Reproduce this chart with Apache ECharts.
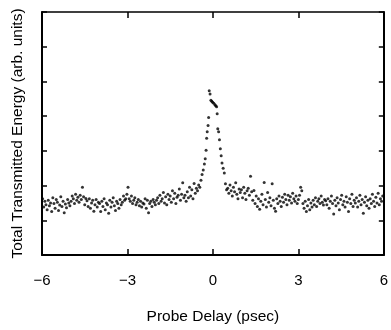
<!DOCTYPE html>
<html>
<head>
<meta charset="utf-8">
<script src="https://cdn.jsdelivr.net/npm/echarts@6/dist/echarts.min.js"></script>
<style>
html,body{margin:0;padding:0;background:#fff;}
#chart{width:391px;height:330px;}
</style>
</head>
<body>
<div id="chart"></div>
<script>
// Probe delay (psec) and total transmitted energy (arb. units)
const xTicks = [-6, -3, 0, 3, 6];

const delaysPre = [
-5.98,-5.94,-5.90,-5.86,-5.82,-5.78,-5.74,-5.70,-5.66,-5.62,-5.58,-5.54,-5.50,-5.46,-5.42,-5.38,-5.34,-5.30,-5.26,-5.22,-5.18,-5.14,-5.10,-5.06,-5.02,
-4.98,-4.94,-4.90,-4.86,-4.82,-4.78,-4.74,-4.70,-4.66,-4.62,-4.58,-4.54,-4.50,-4.46,-4.42,-4.38,-4.34,-4.30,-4.26,-4.22,-4.18,-4.14,-4.10,-4.06,-4.02,
-3.98,-3.94,-3.90,-3.86,-3.82,-3.78,-3.74,-3.70,-3.66,-3.62,-3.58,-3.54,-3.50,-3.46,-3.42,-3.38,-3.34,-3.30,-3.26,-3.22,-3.18,-3.14,-3.10,-3.06,-3.02,
-2.98,-2.94,-2.90,-2.86,-2.82,-2.78,-2.74,-2.70,-2.66,-2.62,-2.58,-2.54,-2.50,-2.46,-2.42,-2.38,-2.34,-2.30,-2.26,-2.22,-2.18,-2.14,-2.10,-2.06,-2.02,
-1.98,-1.94,-1.90,-1.86,-1.82,-1.78,-1.74,-1.70,-1.66,-1.62,-1.58,-1.54,-1.50,-1.46,-1.42,-1.38,-1.34,-1.30,-1.26,-1.22,-1.18,-1.14,-1.10,-1.06,-1.02,
-0.98,-0.94,-0.90,-0.86,-0.82,-0.78,-0.74,-0.70,-0.66,-0.62,-0.58,-0.54,-0.50,-0.46
];
const energyPre = [
1.62,1.38,1.55,1.45,1.30,1.58,1.42,1.50,1.25,1.65,1.48,1.35,1.60,1.52,1.28,1.44,1.68,1.40,1.55,1.22,1.47,1.36,1.60,1.50,1.42,
1.55,1.70,1.62,1.48,1.75,1.58,1.66,1.52,1.72,1.60,1.95,1.68,1.45,1.63,1.56,1.40,1.62,1.35,1.50,1.58,1.26,1.45,1.60,1.38,1.52,
1.48,1.25,1.55,1.40,1.62,1.30,1.50,1.45,1.20,1.58,1.38,1.52,1.65,1.42,1.28,1.55,1.48,1.35,1.60,1.45,1.52,1.70,1.58,1.62,1.75,
1.95,1.62,1.55,1.70,1.48,1.58,1.65,1.45,1.52,1.60,1.42,1.55,1.38,1.50,1.47,1.62,1.35,1.58,1.22,1.48,1.55,1.40,1.60,1.52,1.45,
1.58,1.65,1.48,1.72,1.55,1.62,1.80,1.50,1.68,1.45,1.75,1.60,1.70,1.52,1.85,1.62,1.78,1.48,1.66,1.72,1.90,1.58,1.75,2.08,1.65,
1.72,1.55,1.82,1.65,1.95,1.70,1.88,1.62,2.06,1.78,1.92,1.85,2.02,1.95
];

const delaysPeak = [
-0.42,-0.38,-0.34,-0.30,-0.27,-0.24,-0.22,-0.20,-0.17,-0.15,-0.13,-0.10,-0.07,-0.04,-0.01,
0.03,0.07,0.10,0.13,0.15,0.17,0.20,0.23,0.26,0.29,0.32,0.36,0.40,0.44,0.48
];
const energyPeak = [
2.15,2.32,2.45,2.62,2.77,3.02,3.36,3.55,3.73,3.96,4.73,4.64,4.46,4.43,4.40,
4.37,4.33,4.30,4.27,4.07,3.64,3.55,3.32,3.06,2.86,2.65,2.50,2.36,2.05,1.88
];

const delaysPost = [
0.52,0.56,0.60,0.64,0.68,0.72,0.76,0.80,0.84,0.88,0.92,0.96,
1.00,1.04,1.08,1.12,1.16,1.20,1.24,1.28,1.32,1.36,1.40,1.44,1.48,1.52,1.56,1.60,1.64,1.68,1.72,1.76,1.80,1.84,1.88,1.92,1.96,
2.00,2.04,2.08,2.12,2.16,2.20,2.24,2.28,2.32,2.36,2.40,2.44,2.48,2.52,2.56,2.60,2.64,2.68,2.72,2.76,2.80,2.84,2.88,2.92,2.96,
3.00,3.04,3.08,3.12,3.16,3.20,3.24,3.28,3.32,3.36,3.40,3.44,3.48,3.52,3.56,3.60,3.64,3.68,3.72,3.76,3.80,3.84,3.88,3.92,3.96,
4.00,4.04,4.08,4.12,4.16,4.20,4.24,4.28,4.32,4.36,4.40,4.44,4.48,4.52,4.56,4.60,4.64,4.68,4.72,4.76,4.80,4.84,4.88,4.92,4.96,
5.00,5.04,5.08,5.12,5.16,5.20,5.24,5.28,5.32,5.36,5.40,5.44,5.48,5.52,5.56,5.60,5.64,5.68,5.72,5.76,5.80,5.84,5.88,5.92,5.96
];
const energyPost = [
1.92,1.78,2.02,1.85,1.70,1.95,1.82,2.08,1.75,1.62,1.90,1.80,
1.88,1.65,1.95,1.78,1.60,1.85,1.92,1.72,2.27,1.82,1.58,1.86,1.48,1.70,1.40,1.62,1.32,1.55,1.75,1.45,2.09,1.60,1.38,1.80,1.52,
1.65,1.42,2.05,1.58,1.35,1.26,1.62,1.48,1.70,1.55,1.40,1.66,1.52,1.75,1.60,1.45,1.72,1.58,1.68,1.50,1.78,1.62,1.55,1.70,1.48,
1.60,1.72,1.95,1.85,1.48,1.35,1.55,1.25,1.42,1.60,1.30,1.50,1.38,1.58,1.45,1.65,1.40,1.55,1.62,1.48,1.70,1.52,1.44,1.60,1.56,
1.45,1.62,1.35,1.55,1.70,1.48,1.18,1.58,1.42,1.65,1.50,1.30,1.60,1.72,1.45,1.55,1.38,1.68,1.52,1.25,1.62,1.48,1.75,1.40,1.58,
1.50,1.65,1.38,1.55,1.72,1.45,1.60,1.20,1.52,1.68,1.42,1.58,1.35,1.62,1.48,1.75,1.55,1.40,1.66,1.50,1.78,1.45,1.62,1.55,1.70
];

function pairs(xs, ys) { return xs.map((x, i) => [x, ys[i]]); }
const points = pairs(delaysPre, energyPre)
  .concat(pairs(delaysPeak, energyPeak))
  .concat(pairs(delaysPost, energyPost));

const FONT = "'Liberation Sans', Arial, Helvetica, sans-serif";
const INK = '#000';

const chart = echarts.init(document.getElementById('chart'), null, {renderer: 'canvas'});
const fmt = v => (v < 0 ? '\u2212' + Math.abs(v) : String(v));

chart.setOption({
  animation: false,
  backgroundColor: '#fff',
  grid: {left: 42, right: 6, top: 12, bottom: 62},
  xAxis: [{
    type: 'value', min: -6, max: 6, interval: 3, position: 'bottom',
    axisLine: {onZero: false, lineStyle: {color: INK, width: 2}},
    axisTick: {inside: true, length: 6, lineStyle: {color: INK, width: 1.5}},
    axisLabel: {formatter: fmt, fontFamily: FONT, fontSize: 15, color: INK, margin: 18},
    splitLine: {show: false},
    name: 'Probe Delay (psec)', nameLocation: 'middle', nameGap: 54,
    nameTextStyle: {fontFamily: FONT, fontSize: 15.5, color: INK}
  }, {
    type: 'value', min: -6, max: 6, interval: 3, position: 'top',
    axisLine: {onZero: false, lineStyle: {color: INK, width: 1.5}},
    axisTick: {inside: true, length: 6, lineStyle: {color: INK, width: 1.5}},
    axisLabel: {show: false}, splitLine: {show: false}
  }],
  yAxis: [{
    type: 'value', min: 0, max: 7, interval: 1, position: 'left',
    axisLine: {show: true, onZero: false, lineStyle: {color: INK, width: 2}},
    axisTick: {show: true, inside: true, length: 5, lineStyle: {color: INK, width: 1.5}},
    axisLabel: {show: false}, splitLine: {show: false},
    name: 'Total Transmitted Energy (arb. units)', nameLocation: 'middle', nameGap: 16,
    nameTextStyle: {fontFamily: FONT, fontSize: 15.5, color: INK}
  }, {
    type: 'value', min: 0, max: 7, interval: 1, position: 'right',
    axisLine: {show: true, onZero: false, lineStyle: {color: INK, width: 2}},
    axisTick: {show: true, inside: true, length: 5, lineStyle: {color: INK, width: 1.5}},
    axisLabel: {show: false}, splitLine: {show: false}
  }],
  series: [{
    type: 'scatter', xAxisIndex: 0, yAxisIndex: 0,
    data: points, symbol: 'circle', symbolSize: 3,
    itemStyle: {color: INK}
  }]
});
</script>
</body>
</html>
